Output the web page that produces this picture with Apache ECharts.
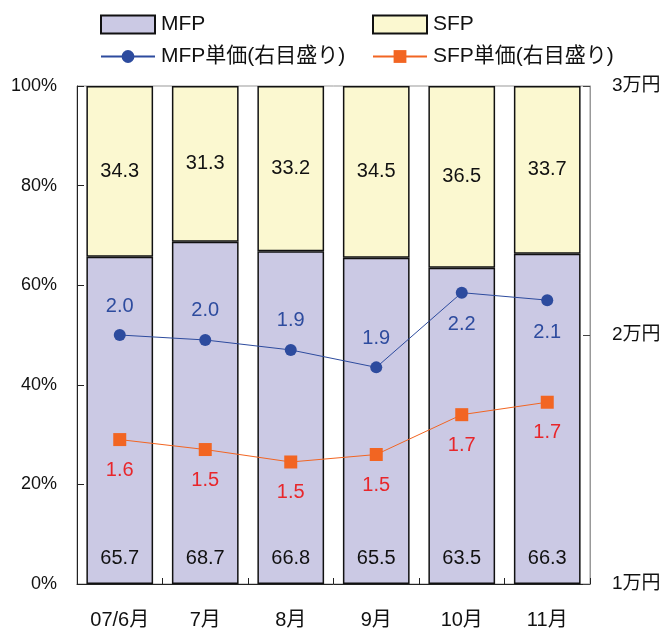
<!DOCTYPE html>
<html>
<head>
<meta charset="utf-8">
<script src="https://cdn.jsdelivr.net/npm/echarts@6/dist/echarts.min.js"></script>
<style>
  html, body { margin: 0; padding: 0; background: #fff; }
  #chart { width: 671px; height: 630px; }
</style>
</head>
<body>
<div id="chart"></div>
<script>
// Monthly share of MFP / SFP (%) and unit prices (10,000 yen, right axis)
const months = ['07/6月', '7月', '8月', '9月', '10月', '11月'];
const mfpShare = [65.7, 68.7, 66.8, 65.5, 63.5, 66.3];
const sfpShare = [34.3, 31.3, 33.2, 34.5, 36.5, 33.7];
const mfpPrice = [2.00, 1.98, 1.94, 1.87, 2.17, 2.14];
const sfpPrice = [1.58, 1.54, 1.49, 1.52, 1.68, 1.73];
const leftTicks = [0, 20, 40, 60, 80, 100];
const rightTicks = [1, 2, 3];

const FONT = "'Liberation Sans', 'Noto Sans CJK JP', sans-serif";
const NAME_MFP = 'MFP';
const NAME_SFP = 'SFP';
const NAME_MFP_P = 'MFP単価(右目盛り)';
const NAME_SFP_P = 'SFP単価(右目盛り)';

const BLUE = '#2D4B9E';
const ORANGE = '#F26522';
const RED = '#E8262B';

const chart = echarts.init(document.getElementById('chart'), null, { renderer: 'canvas' });

const fmt1 = p => Number(p.value).toFixed(1);

// MFP price labels sit above the markers, except where the line rises steeply
const mfpPriceData = mfpPrice.map((v, i) => i >= 4
  ? { value: v, label: { position: 'bottom', distance: 16 } }
  : v);

const legendText = { fontFamily: FONT, fontSize: 21, color: '#111', padding: [0, 0, 0, 1] };

chart.setOption({
  animation: false,
  backgroundColor: '#fff',
  textStyle: { fontFamily: FONT },
  grid: {
    left: 77, right: 81, top: 86, bottom: 46,
    show: true, borderColor: '#999', borderWidth: 1, backgroundColor: 'transparent'
  },
  legend: [
    { data: [NAME_MFP], icon: 'rect', left: 95, top: 9, itemWidth: 54, itemHeight: 18, itemGap: 0, textStyle: legendText },
    { data: [NAME_SFP], icon: 'rect', left: 367, top: 9, itemWidth: 54, itemHeight: 18, itemGap: 0, textStyle: legendText },
    { data: [NAME_MFP_P], left: 95, top: 41, itemWidth: 54, itemHeight: 16, itemGap: 0, textStyle: legendText },
    { data: [NAME_SFP_P], left: 367, top: 41, itemWidth: 54, itemHeight: 16, itemGap: 0, textStyle: legendText }
  ],
  xAxis: {
    type: 'category',
    data: months,
    axisLine: { lineStyle: { color: '#222', width: 1 } },
    axisTick: { show: true, inside: true, length: 6, lineStyle: { color: '#222' } },
    axisLabel: { margin: 26, fontSize: 20, color: '#111', fontFamily: FONT },
    splitLine: { show: false }
  },
  yAxis: [
    {
      type: 'value',
      min: leftTicks[0], max: leftTicks[leftTicks.length - 1], interval: 20,
      axisLine: { show: true, lineStyle: { color: '#222', width: 1 } },
      axisTick: { show: true, inside: true, length: 7, lineStyle: { color: '#222' } },
      axisLabel: { margin: 20, fontSize: 18, color: '#111', fontFamily: FONT, formatter: '{value}%' },
      splitLine: { show: false }
    },
    {
      type: 'value',
      min: rightTicks[0], max: rightTicks[rightTicks.length - 1], interval: 1,
      axisLine: { show: true, lineStyle: { color: '#999', width: 1 } },
      axisTick: { show: true, inside: true, length: 7, lineStyle: { color: '#444' } },
      axisLabel: { margin: 22, fontSize: 19, color: '#111', fontFamily: FONT, formatter: v => v + '万円' },
      splitLine: { show: false }
    }
  ],
  series: [
    {
      name: NAME_MFP, type: 'bar', stack: 'share', barWidth: '78%',
      data: mfpShare,
      itemStyle: { color: '#CBC9E4', borderColor: '#111', borderWidth: 1.5 },
      label: { show: true, position: 'insideBottom', distance: 16, fontSize: 20, color: '#111', fontFamily: FONT, formatter: fmt1 },
      z: 2
    },
    {
      name: NAME_SFP, type: 'bar', stack: 'share', barWidth: '78%',
      data: sfpShare,
      itemStyle: { color: '#FBF8D0', borderColor: '#111', borderWidth: 1.5 },
      label: { show: true, position: 'inside', fontSize: 20, color: '#111', fontFamily: FONT, formatter: fmt1 },
      z: 2
    },
    {
      name: NAME_MFP_P, type: 'line', yAxisIndex: 1,
      data: mfpPriceData,
      symbol: 'circle', symbolSize: 12,
      itemStyle: { color: BLUE },
      lineStyle: { color: BLUE, width: 1 },
      label: { show: true, position: 'top', distance: 13, fontSize: 20, color: BLUE, fontFamily: FONT, formatter: fmt1 },
      z: 5
    },
    {
      name: NAME_SFP_P, type: 'line', yAxisIndex: 1,
      data: sfpPrice,
      symbol: 'rect', symbolSize: 13,
      itemStyle: { color: ORANGE },
      lineStyle: { color: ORANGE, width: 1 },
      label: { show: true, position: 'bottom', distance: 14, fontSize: 20, color: RED, fontFamily: FONT, formatter: fmt1 },
      z: 5
    }
  ]
});
</script>
</body>
</html>
